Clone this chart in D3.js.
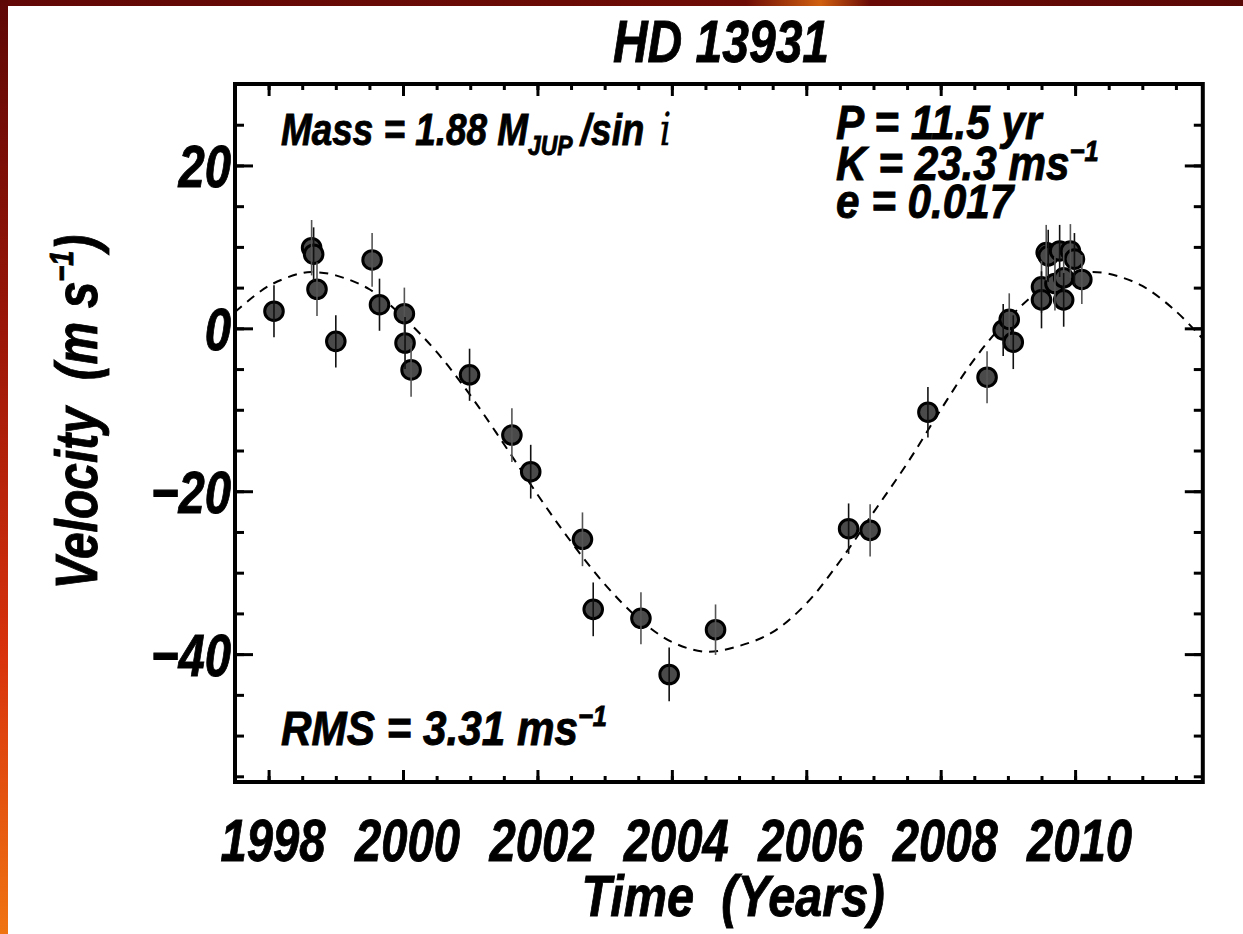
<!DOCTYPE html>
<html>
<head>
<meta charset="utf-8">
<script src="https://cdn.jsdelivr.net/npm/d3@7"></script>
<style>
  body { margin: 0; background: #fff; }
  svg text { font-family: "Liberation Sans", Arial, Helvetica, sans-serif; font-weight: bold; font-style: italic; fill: #000; stroke: #000; stroke-width: 0.9px; }
</style>
</head>
<body>
<div id="chart"></div>
<script>
// radial velocity measurements (year, m/s, error)
var years = [1998.08, 1998.64, 1998.67, 1998.72, 1999.00, 1999.54, 1999.65, 2000.02, 2000.03, 2000.12,
             2000.99, 2001.62, 2001.90, 2002.67, 2002.83, 2003.54, 2003.96, 2004.65, 2006.63, 2006.95,
             2007.81, 2008.69, 2008.93, 2009.02, 2009.08, 2009.50, 2009.50, 2009.57, 2009.60, 2009.70,
             2009.77, 2009.83, 2009.83, 2009.93, 2009.99, 2010.10];
var velocities = [2.1, 9.9, 9.1, 4.8, -1.6, 8.4, 2.9, 1.8, -1.8, -5.1,
                  -5.7, -13.1, -17.6, -25.9, -34.5, -35.6, -42.5, -37.0, -24.6, -24.8,
                  -10.3, -6.0, -0.2, 1.1, -1.7, 5.1, 3.5, 9.3, 8.9, 5.5,
                  9.5, 6.2, 3.5, 9.5, 8.5, 6.0];
var errors = [3.2, 3.4, 3.3, 3.3, 3.2, 3.3, 3.2, 3.2, 3.2, 3.3,
              3.2, 3.3, 3.3, 3.3, 3.3, 3.2, 3.3, 3.1, 3.1, 3.2,
              3.1, 3.2, 3.2, 3.2, 3.3, 3.2, 3.5, 3.4, 3.2, 3.3,
              3.2, 3.2, 3.3, 3.3, 3.2, 3.0];

// keplerian fit
var fitYears = [1997.5, 1998.0, 1998.5, 1998.7, 1999.0, 1999.5, 2000.0, 2000.5, 2001.0, 2001.5,
                2002.0, 2002.5, 2003.0, 2003.5, 2004.0, 2004.5, 2005.0, 2005.5, 2006.0, 2006.5,
                2007.0, 2007.5, 2008.0, 2008.5, 2009.0, 2009.5, 2010.0, 2010.2, 2010.5, 2011.0,
                2011.5, 2011.9];
var fitVel = [2.0, 5.2, 6.8, 6.9, 6.5, 4.8, 1.4, -2.9, -8.2, -14.2,
              -20.4, -26.2, -31.4, -35.6, -38.5, -39.7, -39.0, -37.3, -33.8, -28.6,
              -22.6, -16.6, -10.0, -3.8, 1.1, 4.8, 6.6, 6.9, 6.7, 5.2,
              2.1, -1.3];

var xMajor = [1998, 2000, 2002, 2004, 2006, 2008, 2010];
var yMajor = [-40, -20, 0, 20];

var W = 1243, H = 934;
var SX = 0.8;   // horizontal squeeze to mimic the condensed font

var svg = d3.select("#chart").append("svg")
    .attr("width", W)
    .attr("height", H);

// flame border strips
var defs = svg.append("defs");
var gl = defs.append("linearGradient").attr("id", "leftStrip")
    .attr("x1", 0).attr("y1", 0).attr("x2", 0).attr("y2", 1);
gl.append("stop").attr("offset", "0%").attr("stop-color", "#5e0806");
gl.append("stop").attr("offset", "35%").attr("stop-color", "#9a1608");
gl.append("stop").attr("offset", "70%").attr("stop-color", "#d8320c");
gl.append("stop").attr("offset", "100%").attr("stop-color", "#f07412");
var gt = defs.append("linearGradient").attr("id", "topStrip")
    .attr("x1", 0).attr("y1", 0).attr("x2", 1).attr("y2", 0);
gt.append("stop").attr("offset", "0%").attr("stop-color", "#620806");
gt.append("stop").attr("offset", "60%").attr("stop-color", "#6e0c06");
gt.append("stop").attr("offset", "66%").attr("stop-color", "#d06010");
gt.append("stop").attr("offset", "70%").attr("stop-color", "#6a0a06");
gt.append("stop").attr("offset", "100%").attr("stop-color", "#5a0806");

svg.append("rect").attr("x", 0).attr("y", 0).attr("width", W).attr("height", 6).attr("fill", "url(#topStrip)");
svg.append("rect").attr("x", 0).attr("y", 0).attr("width", 8).attr("height", H).attr("fill", "url(#leftStrip)");

var x = d3.scaleLinear().domain([1997.5, 2011.9]).range([235, 1202.8]);
var y = d3.scaleLinear().domain([-55.7, 30]).range([782, 84]);

var x0 = x.range()[0], x1 = x.range()[1], y0 = y.range()[1], y1 = y.range()[0];

// half-year minor ticks, 5 m/s minor ticks
var xMinor = d3.range(1997.5, 2011.9, 0.5);
var yMinor = d3.range(-55, 30.1, 5);

function styleTicks(g, w) {
    g.select(".domain").remove();
    g.selectAll("line").attr("stroke", "#000").attr("stroke-width", w);
}

// squeezed text placed at (px, py)
function label(px, py, size, sx, rot) {
    return svg.append("text")
        .attr("transform", "translate(" + px + "," + py + ")" + (rot ? " rotate(" + rot + ")" : "") + " scale(" + sx + ",1)")
        .style("font-size", size + "px")
        .attr("xml:space", "preserve");
}

// bottom
svg.append("g").attr("transform", "translate(0," + y1 + ")")
    .call(d3.axisBottom(x).tickValues(xMinor).tickSize(-6).tickFormat(""))
    .call(styleTicks, 3);
var xb = svg.append("g").attr("transform", "translate(0," + y1 + ")")
    .call(d3.axisBottom(x).tickValues(xMajor).tickSize(-12).tickFormat(d3.format("d")))
    .call(styleTicks, 3);
xb.selectAll("text").attr("y", 0).attr("dy", 0)
    .attr("transform", "translate(4,79) scale(" + SX + ",1)")
    .style("font-size", "59px").style("font-family", null);
// top
svg.append("g").attr("transform", "translate(0," + y0 + ")")
    .call(d3.axisTop(x).tickValues(xMinor).tickSize(-6).tickFormat(""))
    .call(styleTicks, 3);
svg.append("g").attr("transform", "translate(0," + y0 + ")")
    .call(d3.axisTop(x).tickValues(xMajor).tickSize(-12).tickFormat(""))
    .call(styleTicks, 3);
// left
svg.append("g").attr("transform", "translate(" + x0 + ",0)")
    .call(d3.axisLeft(y).tickValues(yMinor).tickSize(-9).tickFormat(""))
    .call(styleTicks, 3);
var yl = svg.append("g").attr("transform", "translate(" + x0 + ",0)")
    .call(d3.axisLeft(y).tickValues(yMajor).tickSize(-18).tickFormat(function(d) { return d < 0 ? "\u2212" + (-d) : d; }))
    .call(styleTicks, 3);
yl.selectAll("text").attr("x", 0).attr("dy", "0.36em")
    .attr("transform", "translate(-4,0) scale(" + SX + ",1)")
    .style("font-size", "59px").style("font-family", null);
// right
svg.append("g").attr("transform", "translate(" + x1 + ",0)")
    .call(d3.axisRight(y).tickValues(yMinor).tickSize(-9).tickFormat(""))
    .call(styleTicks, 3);
svg.append("g").attr("transform", "translate(" + x1 + ",0)")
    .call(d3.axisRight(y).tickValues(yMajor).tickSize(-18).tickFormat(""))
    .call(styleTicks, 3);

// frame
svg.append("rect")
    .attr("x", x0).attr("y", y0)
    .attr("width", x1 - x0).attr("height", y1 - y0)
    .attr("fill", "none").attr("stroke", "#000").attr("stroke-width", 4);

// clip for fit curve
defs.append("clipPath").attr("id", "plotArea").append("rect")
    .attr("x", x0).attr("y", y0).attr("width", x1 - x0).attr("height", y1 - y0);

var line = d3.line()
    .x(function(d, i) { return x(fitYears[i]); })
    .y(function(d) { return y(d); })
    .curve(d3.curveCatmullRom);

svg.append("path")
    .datum(fitVel)
    .attr("clip-path", "url(#plotArea)")
    .attr("d", line)
    .attr("fill", "none")
    .attr("stroke", "#000")
    .attr("stroke-width", 2)
    .attr("stroke-dasharray", "9,7");

// points
var pts = years.map(function(t, i) { return {t: t, v: velocities[i], e: errors[i]}; });

svg.selectAll("circle.pt")
    .data(pts)
    .enter()
    .append("circle")
      .attr("class", "pt")
      .attr("cx", function(d) { return x(d.t); })
      .attr("cy", function(d) { return y(d.v); })
      .attr("r", 9.3)
      .attr("fill", "#4a4a4a")
      .attr("stroke", "#000")
      .attr("stroke-width", 3);

svg.selectAll("line.err")
    .data(pts)
    .enter()
    .append("line")
      .attr("class", "err")
      .attr("x1", function(d) { return x(d.t); })
      .attr("x2", function(d) { return x(d.t); })
      .attr("y1", function(d) { return y(d.v + d.e); })
      .attr("y2", function(d) { return y(d.v - d.e); })
      .attr("stroke", function(d, i) { return i % 2 ? "#555" : "#111"; })
      .attr("stroke-width", 1.6);

// titles
label(721, 62, 60, 0.8).attr("text-anchor", "middle").text("HD 13931");
label(733, 916, 58, 0.84).attr("text-anchor", "middle").text("Time  (Years)");

var yt = label(97, 412, 60, 0.8, -90).attr("text-anchor", "middle");
yt.append("tspan").text("Velocity  (m s");
yt.append("tspan").attr("dy", -24).style("font-size", "34px").text("\u22121");
yt.append("tspan").attr("dy", 24).text(")");

// annotations
var mass = label(281, 145, 45, 0.82);
mass.append("tspan").text("Mass = 1.88 M");
mass.append("tspan").attr("dy", 10).style("font-size", "28px").text("JUP");
mass.append("tspan").attr("dy", -10).attr("dx", 10).text("/sin ");
mass.append("tspan").attr("dx", 6).style("font-family", "'DejaVu Serif', serif").style("font-weight", "normal").style("stroke-width", "0.3px").text("i");

label(836, 139, 48, 0.88).text("P = 11.5 yr");
var kt = label(836, 180, 48, 0.88);
kt.append("tspan").text("K = 23.3 ms");
kt.append("tspan").attr("dy", -19).style("font-size", "29px").text("\u22121");
label(836, 218, 48, 0.88).text("e = 0.017");

var rms = label(281, 745, 48, 0.88);
rms.append("tspan").text("RMS = 3.31 ms");
rms.append("tspan").attr("dy", -19).style("font-size", "29px").text("\u22121");
</script>
</body>
</html>
